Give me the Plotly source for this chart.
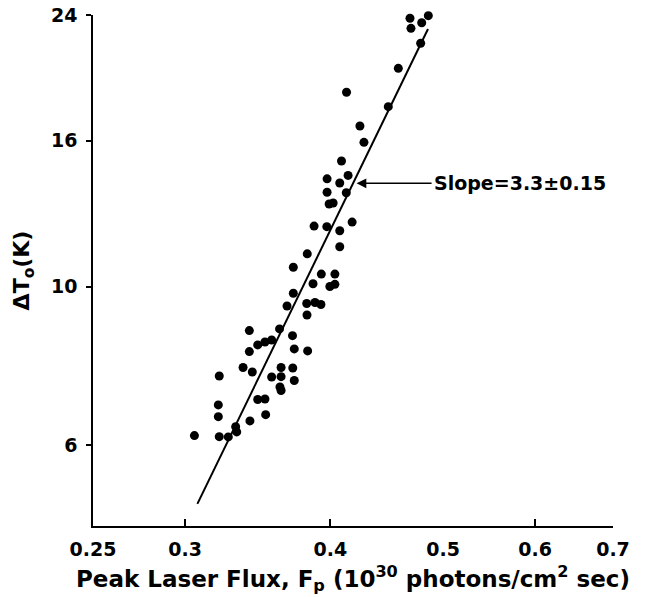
import math
import plotly.graph_objects as go

# Peak laser flux F_p (10^30 photons/cm^2 sec)
flux = [0.3056, 0.3210, 0.3204, 0.3204, 0.3210, 0.3268, 0.3316, 0.3323, 0.3407, 0.3407,
        0.3365, 0.3427, 0.3464, 0.3514, 0.3561, 0.3617, 0.3671, 0.3717, 0.3711, 0.3724,
        0.3824, 0.3561, 0.3628, 0.3713, 0.3628, 0.3724, 0.3620, 0.3628, 0.3464, 0.3514,
        0.3411, 0.3519, 0.3817, 0.3880, 0.3926, 0.3819, 0.4089, 0.3974, 0.4143, 0.4075,
        0.3974, 0.4128, 0.3990, 0.4022, 0.3873, 0.3972, 0.4075, 0.4176, 0.4075, 0.3821,
        0.3717, 0.3929, 0.4036, 0.3865, 0.3996, 0.4036, 0.4130, 0.4241, 0.4275, 0.4486,
        0.4576, 0.4783, 0.4683, 0.4692, 0.4793, 0.4856]
# Temperature rise Delta T_o (K)
delta_t = [6.183, 7.494, 6.826, 6.573, 6.163, 6.157, 6.365, 6.257, 8.676, 8.107,
           7.703, 7.592, 8.283, 8.363, 8.417, 8.723, 9.392, 9.785, 8.534, 8.177,
           8.125, 7.470, 7.703, 7.690, 7.477, 7.386, 7.233, 7.152, 6.948, 6.959,
           6.483, 6.615, 9.468, 9.499, 9.438, 9.124, 14.99, 14.15, 14.31, 13.96,
           13.55, 13.53, 13.05, 13.09, 12.15, 12.13, 11.97, 12.31, 11.37, 11.11,
           10.64, 10.41, 10.41, 10.09, 10.00, 10.07, 18.71, 16.78, 15.92, 17.86,
           20.21, 21.91, 23.75, 22.99, 23.41, 23.95]

# Fitted power-law line (slope 3.3 on log-log)
fit_flux = [0.3074, 0.4853]
fit_dt = [4.961, 22.94]

# Arrow tip of slope label
arrow_flux = 0.4213
arrow_dt = 13.95
slope_label = "Slope=3.3±0.15"

x_tick_vals = [0.25, 0.3, 0.4, 0.5, 0.6, 0.7]
x_tick_text = ["0.25", "0.3", "0.4", "0.5", "0.6", "0.7"]
x_tick_marks = [0.3, 0.4, 0.6, 0.7]
y_tick_vals = [6, 10, 16, 24]
y_tick_text = ["6", "10", "16", "24"]

EPS = 1e-5
x_range = [math.log10(0.25) - EPS, math.log10(0.7) + EPS]
y_range = [math.log10(4.62), math.log10(24) + EPS]

FONT = "DejaVu Sans"

fig = go.Figure()
fig.add_trace(go.Scatter(x=fit_flux, y=fit_dt, mode="lines", xaxis="x2", yaxis="y",
                         line=dict(color="black", width=2), hoverinfo="skip",
                         showlegend=False, cliponaxis=False))
fig.add_trace(go.Scatter(x=flux, y=delta_t, mode="markers",
                         marker=dict(color="black", size=9, line=dict(width=0)),
                         showlegend=False, cliponaxis=False))

fig.update_layout(
    width=652, height=597,
    margin=dict(l=93, r=39, t=15, b=71, autoexpand=False),
    paper_bgcolor="white", plot_bgcolor="white",
    font=dict(family=FONT, size=19, color="black", weight="bold"),
    xaxis=dict(type="log", range=x_range, tickmode="array", tickvals=x_tick_marks,
               showticklabels=False, ticks="inside", ticklen=7, tickwidth=1.5,
               tickcolor="black", showline=True, linecolor="black", linewidth=1.5,
               showgrid=False, zeroline=False, automargin=False),
    xaxis2=dict(type="log", range=x_range, overlaying="x", anchor="y", side="bottom",
                tickmode="array", tickvals=x_tick_vals, ticktext=x_tick_text,
                ticks="", showline=False, showgrid=False, zeroline=False,
                ticklabelstandoff=10, automargin=False, ticklabeloverflow="allow",
                title=dict(text="Peak Laser Flux, F<sub>p</sub> (10<sup>30</sup> photons/cm<sup>2</sup> sec)",
                           font=dict(size=23, family=FONT, weight="bold"), standoff=11)),
    yaxis=dict(type="log", range=y_range, tickmode="array", tickvals=y_tick_vals,
               ticktext=y_tick_text, ticks="outside", ticklen=5, tickwidth=1.5,
               tickcolor="black", showline=True, linecolor="black", linewidth=1.5,
               showgrid=False, zeroline=False, ticklabelstandoff=5, automargin=False,
               ticklabeloverflow="allow",
               title=dict(text="ΔT<sub>o</sub>(K)", font=dict(size=22, family=FONT, weight="bold"),
                          standoff=15)),
    annotations=[dict(x=math.log10(arrow_flux), y=math.log10(arrow_dt), xref="x", yref="y",
                      text=slope_label, showarrow=True, ax=75, ay=0, axref="pixel", ayref="pixel",
                      xanchor="left", yanchor="middle", arrowhead=2, arrowsize=1.3,
                      arrowwidth=1.5, arrowcolor="black", standoff=0,
                      font=dict(size=19, family=FONT, weight="bold", color="black"))],
)

# remove the default page margin so the figure fills the window exactly
fig.write_html("out.html", config={"displayModeBar": False},
               post_script="document.body.style.margin='0';")
